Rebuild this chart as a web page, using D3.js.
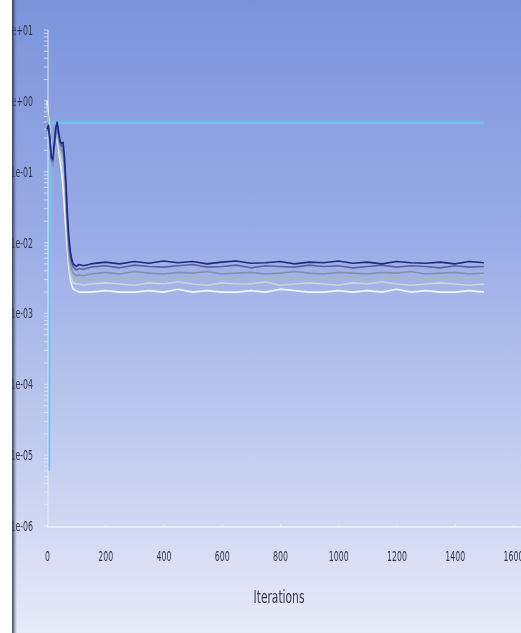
<!DOCTYPE html>
<meta charset="utf-8">
<style>
    body { margin: 0; background: #fff; }
    .tick text { font-family: "DejaVu Sans Condensed", sans-serif; font-size: 14px; fill: #34364a; }
    .axisTitle { font-family: "DejaVu Sans Condensed", sans-serif; font-size: 18px; fill: #34364a; text-anchor: middle; }
    .resid { fill: none; stroke-width: 1.6px; stroke-linejoin: round; }
</style>
<body>
<script src="https://cdn.jsdelivr.net/npm/d3@7"></script>
<script>
    // iterations shared by the residual series
    var iters = [0,5,10,15,20,25,30,35,40,45,50,55,60,65,70,75,80,85,90,100,110,125,
        150,200,250,300,350,400,450,500,550,600,650,700,750,800,850,900,950,1000,
        1050,1100,1150,1200,1250,1300,1350,1400,1450,1500];

    // residual values
    var continuity = [0.40,0.45,0.30,0.16,0.15,0.25,0.42,0.50,0.36,0.27,0.25,0.26,0.16,0.07,0.025,0.012,0.0075,0.0058,0.0050,0.0046,0.0049,0.0047,
        5.0e-3,5.3e-3,5.0e-3,5.4e-3,5.1e-3,5.5e-3,5.2e-3,5.4e-3,5.0e-3,5.3e-3,5.5e-3,5.1e-3,5.2e-3,5.4e-3,5.0e-3,5.3e-3,5.2e-3,5.5e-3,5.1e-3,5.3e-3,5.0e-3,5.4e-3,5.2e-3,5.1e-3,5.3e-3,5.0e-3,5.4e-3,5.2e-3];
    var xVelocity = [0.38,0.42,0.28,0.15,0.14,0.23,0.38,0.45,0.33,0.25,0.23,0.23,0.14,0.06,0.021,0.010,0.0065,0.0052,0.0045,0.0041,0.0043,0.0042,
        4.5e-3,4.7e-3,4.4e-3,4.8e-3,4.6e-3,4.5e-3,4.7e-3,4.9e-3,4.5e-3,4.6e-3,4.8e-3,4.4e-3,4.7e-3,4.6e-3,4.5e-3,4.8e-3,4.6e-3,4.7e-3,4.4e-3,4.6e-3,4.8e-3,4.5e-3,4.7e-3,4.6e-3,4.4e-3,4.7e-3,4.5e-3,4.6e-3];
    var yVelocity = [0.50,0.40,0.25,0.14,0.12,0.20,0.33,0.40,0.30,0.22,0.20,0.19,0.11,0.045,0.017,0.008,0.0052,0.0042,0.0037,0.0034,0.0035,0.0034,
        3.6e-3,3.8e-3,3.6e-3,3.9e-3,3.7e-3,3.6e-3,3.8e-3,3.7e-3,3.9e-3,3.6e-3,3.7e-3,3.8e-3,3.6e-3,3.7e-3,3.9e-3,3.7e-3,3.6e-3,3.8e-3,3.7e-3,3.6e-3,3.8e-3,3.7e-3,3.9e-3,3.6e-3,3.7e-3,3.8e-3,3.6e-3,3.7e-3];
    var zVelocity = [0.70,0.50,0.30,0.17,0.13,0.18,0.30,0.36,0.27,0.20,0.17,0.15,0.09,0.035,0.014,0.0065,0.0043,0.0036,0.0032,0.0030,0.0030,0.0029,
        3.1e-3,3.0e-3,3.2e-3,3.1e-3,3.0e-3,3.2e-3,3.1e-3,3.3e-3,3.0e-3,3.1e-3,3.2e-3,3.0e-3,3.1e-3,3.2e-3,3.1e-3,3.0e-3,3.2e-3,3.1e-3,3.3e-3,3.0e-3,3.1e-3,3.2e-3,3.0e-3,3.1e-3,3.2e-3,3.1e-3,3.0e-3,3.1e-3];
    var kResid = [0.85,0.55,0.32,0.18,0.13,0.17,0.27,0.32,0.24,0.17,0.14,0.12,0.07,0.028,0.011,0.0052,0.0035,0.0030,0.0027,0.0026,0.0026,0.0025,
        2.6e-3,2.7e-3,2.6e-3,2.5e-3,2.7e-3,2.6e-3,2.8e-3,2.6e-3,2.5e-3,2.7e-3,2.6e-3,2.6e-3,2.8e-3,2.5e-3,2.6e-3,2.7e-3,2.6e-3,2.5e-3,2.7e-3,2.6e-3,2.8e-3,2.6e-3,2.5e-3,2.6e-3,2.7e-3,2.6e-3,2.5e-3,2.6e-3];
    var epsResid = [1.0,0.60,0.35,0.20,0.15,0.20,0.28,0.30,0.20,0.14,0.10,0.06,0.03,0.015,0.008,0.0045,0.0030,0.0025,0.0022,0.0021,0.0020,0.0020,
        2.0e-3,2.1e-3,2.0e-3,2.0e-3,2.1e-3,2.0e-3,2.2e-3,2.0e-3,2.1e-3,2.0e-3,2.0e-3,2.1e-3,2.0e-3,2.2e-3,2.1e-3,2.0e-3,2.0e-3,2.1e-3,2.0e-3,2.1e-3,2.0e-3,2.2e-3,2.0e-3,2.1e-3,2.0e-3,2.0e-3,2.1e-3,2.0e-3];

    // the flat cyan residual (starts very low, jumps up)
    var energyIters = [8, 10, 1500];
    var energy = [6e-6, 0.49, 0.49];

    var xTicks = [0,200,400,600,800,1000,1200,1400,1600];
    var yTicks = [1e-6,1e-5,1e-4,1e-3,1e-2,1e-1,1,10];
    var yLabels = ["1e-06","1e-05","1e-04","1e-03","1e-02","1e-01","1e+00","1e+01"];

    var series = [
        { values: epsResid,   color: "#f2f6fb" },
        { values: kResid,     color: "#c4dcd6" },
        { values: zVelocity,  color: "#a2bcb4" },
        { values: yVelocity,  color: "#8490b0" },
        { values: xVelocity,  color: "#5a62a0" },
        { values: continuity, color: "#1c2c86" }
    ];

    var width = 521, height = 633;

    // set the ranges
    var x = d3.scaleLinear().domain([0, 1600]).range([47, 513]);
    var y = d3.scaleLog().domain([1e-6, 10]).range([526, 30]);

    var svg = d3.select("body").append("svg").attr("width", width).attr("height", height);
    var defs = svg.append("defs");

    var bg = defs.append("linearGradient").attr("id", "bg").attr("x1", 0).attr("y1", 0).attr("x2", 0).attr("y2", 1);
    bg.append("stop").attr("offset", "0%").attr("stop-color", "#7a94db");
    bg.append("stop").attr("offset", "35%").attr("stop-color", "#98aae6");
    bg.append("stop").attr("offset", "70%").attr("stop-color", "#c0cbef");
    bg.append("stop").attr("offset", "100%").attr("stop-color", "#e8eaf8");

    var edge = defs.append("linearGradient").attr("id", "edge").attr("x1", 0).attr("y1", 0).attr("x2", 1).attr("y2", 0);
    edge.append("stop").attr("offset", "0%").attr("stop-color", "#2c2e3c").attr("stop-opacity", 0.9);
    edge.append("stop").attr("offset", "50%").attr("stop-color", "#505468").attr("stop-opacity", 0.5);
    edge.append("stop").attr("offset", "100%").attr("stop-color", "#8088b0").attr("stop-opacity", 0);

    defs.append("filter").attr("id", "soft").append("feGaussianBlur").attr("stdDeviation", 0.7);
    defs.append("filter").attr("id", "glow").attr("x", "-10%").attr("y", "-20%").attr("width", "120%").attr("height", "140%")
        .append("feGaussianBlur").attr("stdDeviation", 1.8);
    defs.append("filter").attr("id", "txt").append("feGaussianBlur").attr("stdDeviation", 0.35);

    svg.append("rect").attr("x", 12).attr("y", 0).attr("width", width - 12).attr("height", height).attr("fill", "url(#bg)");

    // y axis line and minor ticks
    svg.append("line").attr("x1", 48).attr("x2", 48).attr("y1", y(10)).attr("y2", y(1e-6))
        .attr("stroke", "#e4ecf8").attr("stroke-width", 1.2).attr("opacity", 0.8);
    svg.append("g").selectAll("line").data(y.ticks()).enter().append("line")
        .attr("x1", 44).attr("x2", 48)
        .attr("y1", function(d) { return y(d); }).attr("y2", function(d) { return y(d); })
        .attr("stroke", "#eef2fb").attr("stroke-width", 1).attr("opacity", 0.7);

    // x axis line
    svg.append("line").attr("x1", 47).attr("x2", width).attr("y1", 527).attr("y2", 527)
        .attr("stroke", "#eef0fa").attr("stroke-width", 2).attr("opacity", 0.8);

    // add the Y Axis labels (narrow, like the original plot font)
    var yAxis = svg.append("g").attr("transform", "translate(33,0)")
        .call(d3.axisLeft(y).tickValues(yTicks).tickSize(0).tickPadding(0)
            .tickFormat(function(d, i) { return yLabels[i]; }));
    yAxis.select(".domain").remove();
    yAxis.selectAll(".tick text").attr("transform", "scale(0.62,1)").attr("filter", "url(#txt)");

    // add the X Axis labels
    var xAxis = svg.append("g").attr("transform", "translate(0,527)")
        .call(d3.axisBottom(x).tickValues(xTicks).tickSize(3).tickPadding(21).tickFormat(d3.format("d")));
    xAxis.select(".domain").remove();
    xAxis.selectAll(".tick line").attr("y2", -3).attr("stroke", "#f2f4fc").attr("opacity", 0.6);
    xAxis.selectAll(".tick text").attr("transform", "scale(0.62,1)").attr("filter", "url(#txt)");

    svg.append("text").attr("class", "axisTitle").attr("filter", "url(#txt)")
        .attr("transform", "translate(279,603) scale(0.66,1)").text("Iterations");

    // cyan residual: glow + core
    var energyLine = d3.line().x(function(d, i) { return x(energyIters[i]); }).y(function(d) { return y(d); });
    svg.append("path").datum(energy).attr("class", "resid").attr("d", energyLine)
        .attr("stroke", "#8ad8f4").attr("stroke-width", 10).attr("opacity", 0.75).attr("filter", "url(#glow)");
    svg.append("path").datum(energy).attr("class", "resid").attr("d", energyLine)
        .attr("stroke", "#68c8f0").attr("stroke-width", 5.5).attr("filter", "url(#soft)");

    // add the residual lines
    var resLine = d3.line().x(function(d, i) { return x(iters[i]); }).y(function(d) { return y(d); });
    svg.append("g").selectAll("path").data(series).enter().append("path")
        .attr("class", "resid")
        .attr("d", function(d) { return resLine(d.values); })
        .attr("stroke", function(d) { return d.color; })
        .attr("stroke-width", function(d, i) { return i === series.length - 1 ? 2.4 : 1.6; })
        .attr("filter", "url(#soft)");

    // left frame edge
    svg.append("rect").attr("x", 0).attr("y", 0).attr("width", 12).attr("height", height).attr("fill", "#fff");
    svg.append("rect").attr("x", 12).attr("y", 0).attr("width", 5).attr("height", height).attr("fill", "url(#edge)");
</script>
</body>
